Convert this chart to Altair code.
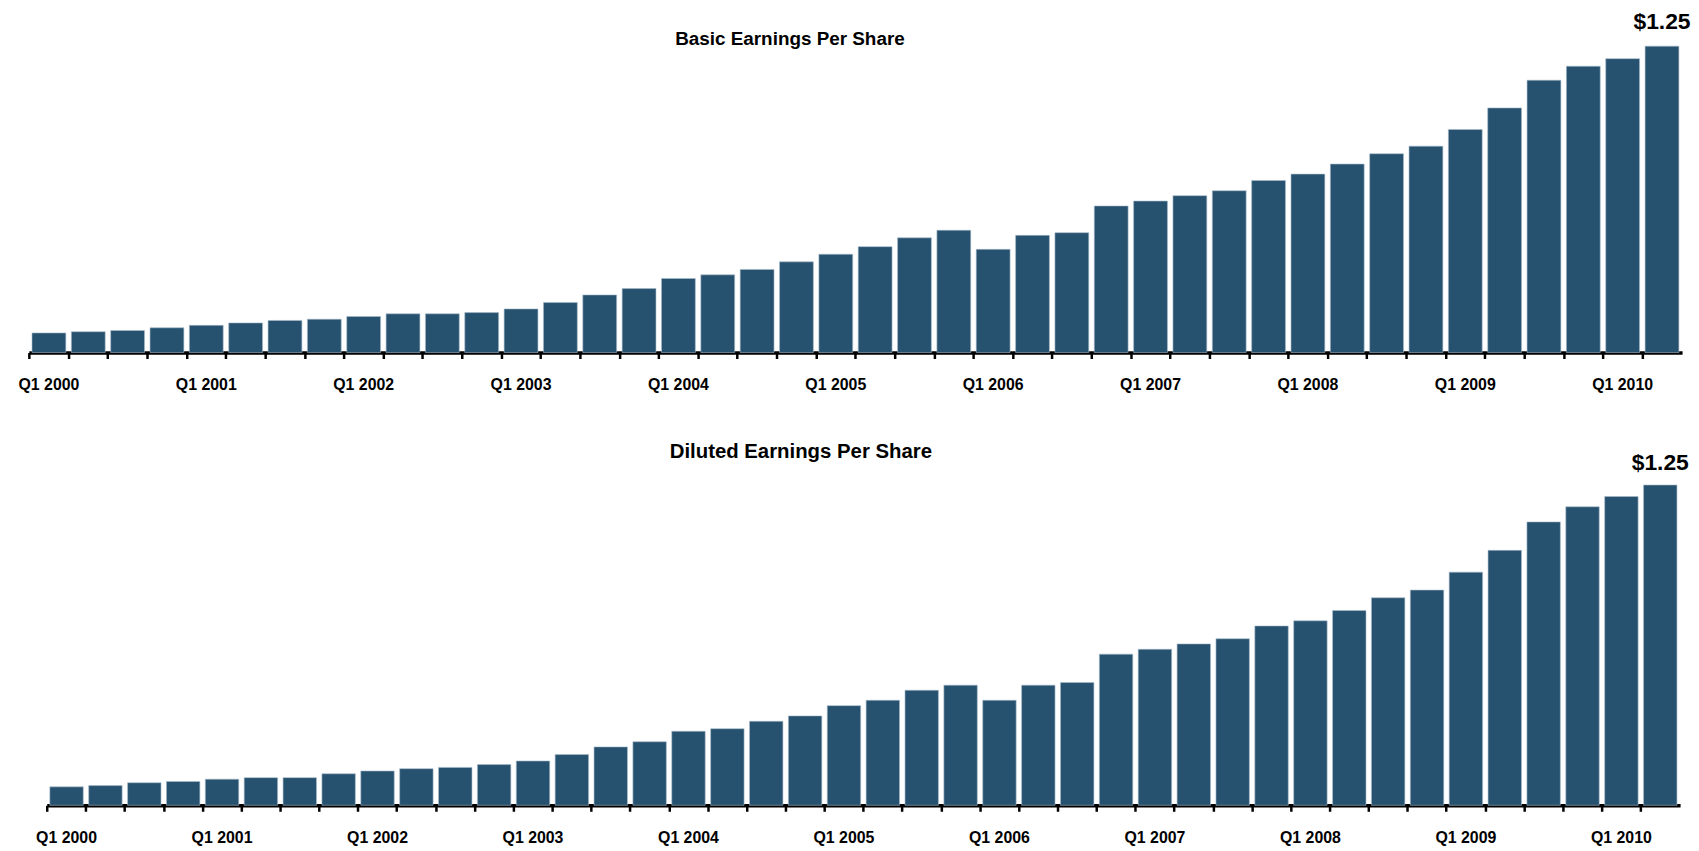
import altair as alt
import pandas as pd

QUARTERS = [f"Q{q} {y}" for y in range(2000, 2011) for q in range(1, 5)][:42]
Q1_LABELS = [f"Q1 {y}" for y in range(2000, 2011)]

BASIC_EPS = [0.080, 0.085, 0.090, 0.101, 0.111, 0.121, 0.131, 0.136, 0.147, 0.158,
             0.158, 0.163, 0.178, 0.204, 0.235, 0.261, 0.302, 0.317, 0.339, 0.370,
             0.401, 0.432, 0.468, 0.499, 0.421, 0.478, 0.489, 0.598, 0.618, 0.640,
             0.660, 0.702, 0.728, 0.769, 0.811, 0.842, 0.910, 0.998, 1.111, 1.168,
             1.199, 1.250]
DILUTED_EPS = [0.072, 0.077, 0.088, 0.093, 0.102, 0.108, 0.108, 0.123, 0.134, 0.143,
               0.148, 0.159, 0.173, 0.198, 0.228, 0.248, 0.289, 0.299, 0.328, 0.349,
               0.389, 0.410, 0.449, 0.469, 0.410, 0.469, 0.479, 0.590, 0.609, 0.630,
               0.650, 0.700, 0.720, 0.760, 0.810, 0.840, 0.910, 0.995, 1.106, 1.165,
               1.205, 1.250]

TITLES = ["Basic Earnings Per Share", "Diluted Earnings Per Share"]
BAR_COLOR = "#27526F"
FONT = "Liberation Sans"


def panel(values, title, width, height, y_max, label_pad, title_dx, title_offset,
          title_size, value_dy):
    df = pd.DataFrame({"quarter": QUARTERS, "eps": values})
    xscale = alt.Scale(domain=QUARTERS, paddingInner=0.14, paddingOuter=0.08)
    yscale = alt.Scale(domain=[0, y_max], nice=False, zero=True)

    bars = alt.Chart(df).mark_bar(
        color=BAR_COLOR, stroke="#a9bccb", strokeWidth=0.6
    ).encode(
        x=alt.X("quarter:N", scale=xscale, sort=None,
                axis=alt.Axis(title=None, orient="bottom", labels=False, ticks=True,
                              domain=True, domainColor="black", domainWidth=3.5,
                              tickColor="black", tickWidth=2.5, tickSize=6,
                              bandPosition=0, tickOffset=-3, grid=False)),
        y=alt.Y("eps:Q", scale=yscale, axis=None),
    )

    value_label = alt.Chart(df).transform_filter(
        alt.datum.quarter == QUARTERS[-1]
    ).mark_text(
        fontSize=23, fontWeight="bold", font=FONT, baseline="alphabetic",
        dy=value_dy, color="black"
    ).encode(
        x=alt.X("quarter:N", scale=xscale, sort=None,
                axis=alt.Axis(title=None, orient="bottom", values=Q1_LABELS,
                              ticks=False, tickSize=0, domain=False,
                              labelPadding=label_pad, labelFontSize=16,
                              labelFont=FONT, labelFontWeight="bold",
                              labelColor="black", labelOverlap=False,
                              labelAngle=0, grid=False)),
        y=alt.Y("eps:Q", scale=yscale, axis=None),
        text=alt.Text("eps:Q", format="$.2f"),
    )

    return alt.layer(bars, value_label).resolve_axis(x="independent").properties(
        width=width,
        height=height,
        title=alt.TitleParams(
            text=title, anchor="middle", frame="group", dx=title_dx,
            offset=title_offset, baseline="alphabetic", fontSize=title_size,
            font=FONT, fontWeight="bold", color="black"
        ),
    )


top = panel(BASIC_EPS, TITLES[0], width=1665, height=344, y_max=1.3935,
            label_pad=24, title_dx=-66, title_offset=-53, title_size=19,
            value_dy=-17)
bottom = panel(DILUTED_EPS, TITLES[1], width=1645, height=384, y_max=1.488,
               label_pad=24, title_dx=-63, title_offset=-55, title_size=20.5,
               value_dy=-15)

# invisible spacer that indents the lower panel
spacer = alt.Chart(pd.DataFrame({"s": [0]})).mark_point(opacity=0).properties(
    width=6, height=10
)

chart = alt.vconcat(
    top, alt.hconcat(spacer, bottom, spacing=0), spacing=32
).properties(
    padding={"left": 10, "top": 0, "right": 0, "bottom": 0},
    background="white",
).configure_view(strokeWidth=0)

chart.save("out.html", embed_options={"renderer": "svg", "actions": False})
